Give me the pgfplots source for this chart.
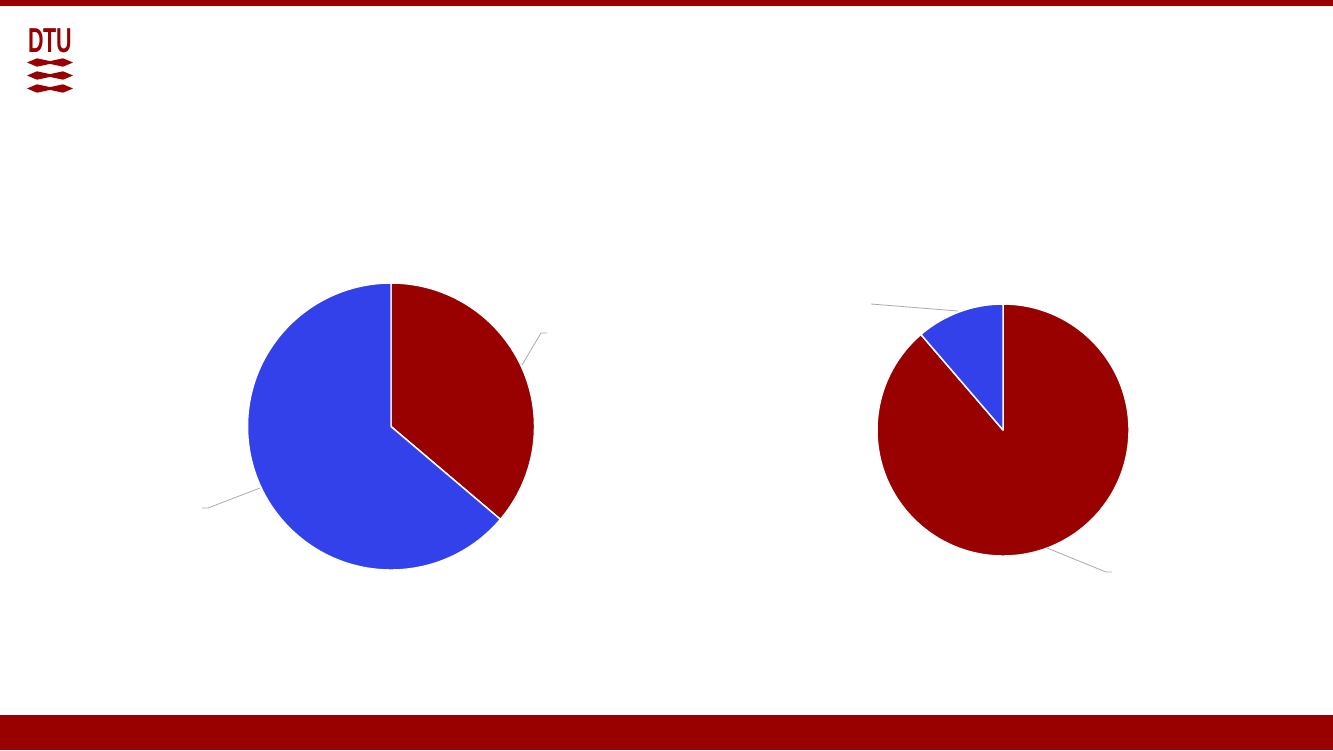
\documentclass[border=0pt]{standalone}
\usepackage{pgfplots}
\pgfplotsset{compat=1.18}
\usepackage{fontspec}
\setmainfont{Liberation Sans}

\definecolor{dtured}{HTML}{990000}
\definecolor{pieblue}{HTML}{3341EB}
\definecolor{leader}{HTML}{AAAAAA}

% one pie slice: centre x, centre y, radius (px), start (%), share (%), colour
\newcommand{\slice}[6]{%
  \fill[#6, draw=white, line width=1.1pt, line join=round]
    (axis cs:#1,#2) -- ++({90-3.6*#4}:{#3*0.75pt})
    arc[start angle={90-3.6*#4}, end angle={90-3.6*(#4+#5)}, radius={#3*0.75pt}]
    -- cycle;}

% one wave of the DTU logo, centred at height #1
\newcommand{\logowave}[1]{%
  \fill[dtured] (axis cs:27,#1) -- (axis cs:37,#1-4.2) -- (axis cs:50,#1-1.4)
    -- (axis cs:63,#1-4.2) -- (axis cs:73,#1) -- (axis cs:63,#1+4.2)
    -- (axis cs:50,#1+1.4) -- (axis cs:37,#1+4.2) -- cycle;}

\begin{document}
\begin{tikzpicture}
\begin{axis}[
    hide axis,
    scale only axis,
    width=999.75pt,
    height=562.5pt,
    xmin=0, xmax=1333,
    ymin=0, ymax=750,
    y dir=reverse,
    clip=false,
]
    % slide frame
    \fill[white] (axis cs:0,0) rectangle (axis cs:1333,750);
    \fill[dtured] (axis cs:0,0) rectangle (axis cs:1333,5.5);
    \fill[dtured] (axis cs:0,715) rectangle (axis cs:1333,750);

    % logo
    \node[anchor=north west, inner sep=0pt, text=dtured,
          font=\fontsize{26}{26}\selectfont\bfseries]
        at (axis cs:28,28) {\scalebox{0.62}[1]{DTU}};
    \logowave{62.5}
    \logowave{75.5}
    \logowave{88.5}

    % left pie: 36.2 / 63.8
    \slice{391}{426.5}{143.5}{0}{36.2}{dtured}
    \slice{391}{426.5}{143.5}{36.2}{63.8}{pieblue}
    \draw[leader, line width=0.6pt] (axis cs:522,365) -- (axis cs:541,333) -- (axis cs:547,333);
    \draw[leader, line width=0.6pt] (axis cs:260,488) -- (axis cs:208,508) -- (axis cs:202,508);

    % right pie: 88.7 / 11.3
    \slice{1003}{430}{126}{0}{88.7}{dtured}
    \slice{1003}{430}{126}{88.7}{11.3}{pieblue}
    \draw[leader, line width=0.6pt] (axis cs:958,311) -- (axis cs:871,304);
    \draw[leader, line width=0.6pt] (axis cs:1047,548) -- (axis cs:1106,572) -- (axis cs:1112,572);
\end{axis}
\end{tikzpicture}
\end{document}
